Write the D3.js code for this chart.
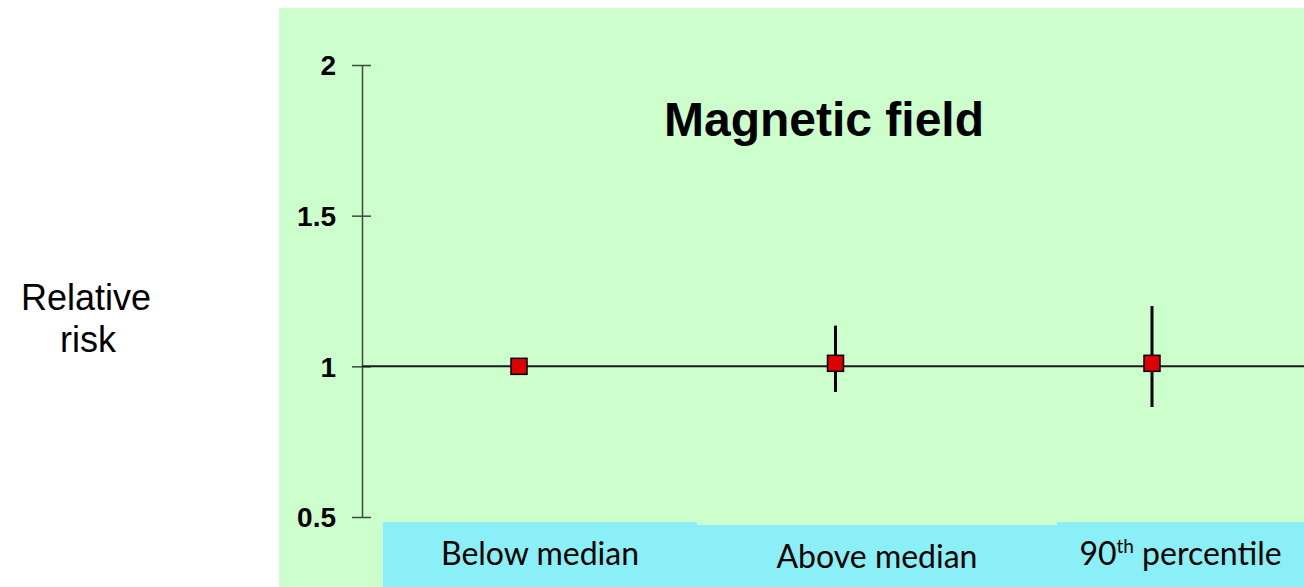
<!DOCTYPE html>
<html>
<head>
<meta charset="utf-8">
<script src="https://cdn.jsdelivr.net/npm/d3@7"></script>
<style>
  body { margin: 0; background: #ffffff; }
  svg { display: block; }
</style>
</head>
<body>
<div id="chart"></div>
<script>
// data
const categories = ["Below median", "Above median", "90th percentile"];
const relRisk = [1.0, 1.01, 1.01];
const ciLow = [null, 0.915, 0.865];
const ciHigh = [null, 1.135, 1.2];
const yTicks = [0.5, 1, 1.5, 2];

const width = 1304, height = 587;

const svg = d3.select("#chart")
  .append("svg")
  .attr("width", width)
  .attr("height", height);

// green panel
svg.append("rect")
  .attr("x", 279).attr("y", 8)
  .attr("width", width - 279).attr("height", height - 8)
  .attr("fill", "#ccffcc");

const yScale = d3.scaleLinear()
  .domain([0.5, 2])
  .range([517, 65]);

const xScale = d3.scalePoint()
  .domain(categories)
  .range([519, 1152]);

// category label boxes (cyan strip)
const boxes = [
  {x0: 383, x1: 697, top: 522, dy: 565},
  {x0: 697, x1: 1057, top: 525, dy: 568},
  {x0: 1057, x1: 1304, top: 522, dy: 565}
];
const cat = svg.append("g").attr("class", "cats");
cat.selectAll("rect")
  .data(boxes)
  .join("rect")
    .attr("x", d => d.x0)
    .attr("y", d => d.top)
    .attr("width", d => d.x1 - d.x0)
    .attr("height", d => height - d.top)
    .attr("fill", "#8aeff6");

const labels = cat.selectAll("text")
  .data(categories)
  .join("text")
    .attr("x", (d, i) => (boxes[i].x0 + boxes[i].x1) / 2)
    .attr("y", (d, i) => boxes[i].dy)
    .attr("text-anchor", "middle")
    .attr("font-family", "'Century Gothic', Futura, Lato, sans-serif")
    .attr("font-size", "32px")
    .attr("fill", "#000");

labels.each(function(d) {
  const t = d3.select(this);
  const m = d.match(/^(\d+)(th)(.*)$/);
  if (m) {
    t.append("tspan").text(m[1]);
    t.append("tspan").text(m[2]).attr("font-size", "19px").attr("dy", -12);
    t.append("tspan").text(m[3]).attr("dy", 12);
  } else {
    t.text(d);
  }
});

// y axis
const yAxis = d3.axisLeft(yScale)
  .tickValues(yTicks)
  .tickFormat(d3.format("~g"))
  .tickSizeInner(0)
  .tickSizeOuter(0);

const ax = svg.append("g")
  .attr("transform", "translate(362,0)")
  .call(yAxis);
ax.select(".domain").attr("stroke", "#3d4a3d").attr("stroke-width", 1.5);
ax.selectAll(".tick line")
  .attr("x1", -10).attr("x2", 9)
  .attr("stroke", "#3d4a3d").attr("stroke-width", 1.5);
ax.selectAll(".tick text")
  .attr("x", -26)
  .attr("dy", "0.35em")
  .attr("font-family", "Arial, 'Liberation Sans', sans-serif")
  .attr("font-weight", "bold")
  .attr("font-size", "28px")
  .attr("fill", "#000");

// reference line at RR = 1
svg.append("line")
  .attr("x1", 362).attr("x2", width)
  .attr("y1", yScale(1)).attr("y2", yScale(1))
  .attr("stroke", "#1a1a1a").attr("stroke-width", 2);

const pts = categories.map((c, i) => ({c, v: relRisk[i], lo: ciLow[i], hi: ciHigh[i]}));

// error bars
svg.append("g")
  .selectAll("line")
  .data(pts.filter(d => d.lo != null))
  .join("line")
    .attr("x1", d => xScale(d.c)).attr("x2", d => xScale(d.c))
    .attr("y1", d => yScale(d.hi)).attr("y2", d => yScale(d.lo))
    .attr("stroke", "#000").attr("stroke-width", 3);

// markers
const s = 16;
svg.append("g")
  .selectAll("rect")
  .data(pts)
  .join("rect")
    .attr("x", d => xScale(d.c) - s / 2)
    .attr("y", d => yScale(d.v) - s / 2)
    .attr("width", s).attr("height", s)
    .attr("fill", "#dd0000")
    .attr("stroke", "#000").attr("stroke-width", 1.5);

// title
svg.append("text")
  .attr("x", 824).attr("y", 136)
  .attr("text-anchor", "middle")
  .attr("font-family", "Arial, 'Liberation Sans', sans-serif")
  .attr("font-weight", "bold")
  .attr("font-size", "48px")
  .text("Magnetic field");

// y label
const yl = svg.append("text")
  .attr("text-anchor", "middle")
  .attr("font-family", "Arial, 'Liberation Sans', sans-serif")
  .attr("font-size", "36px");
yl.append("tspan").attr("x", 86).attr("y", 310).text("Relative");
yl.append("tspan").attr("x", 88).attr("y", 352).text("risk");
</script>
</body>
</html>
